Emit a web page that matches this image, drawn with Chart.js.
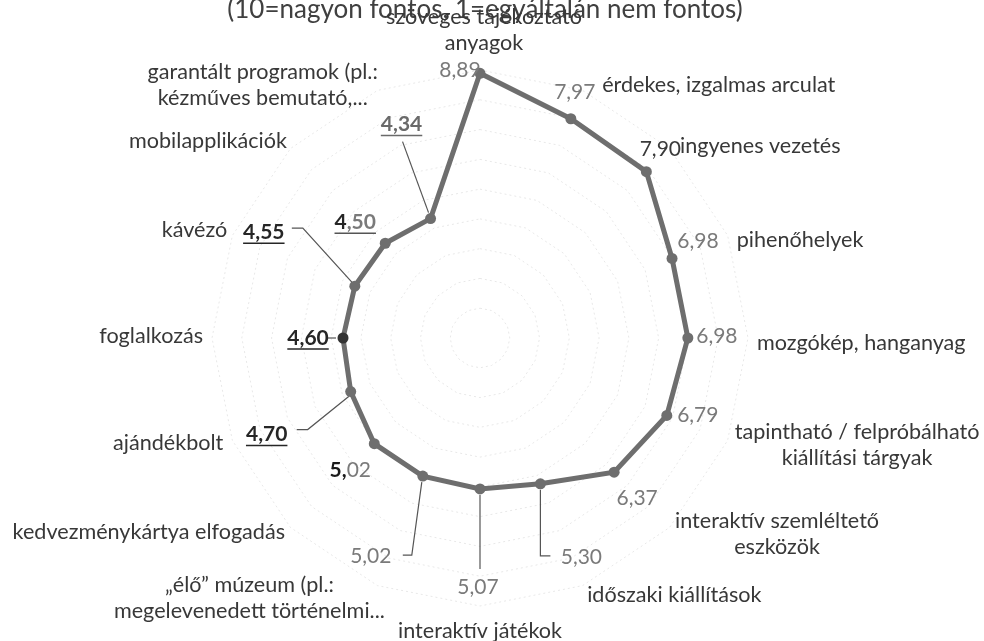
<!DOCTYPE html>
<html>
<head>
<meta charset="utf-8">
<script src="https://cdn.jsdelivr.net/npm/chart.js@4.4.1/dist/chart.umd.min.js"></script>
<style>
  html, body { margin: 0; padding: 0; background: #fff; }
  canvas { display: block; }
</style>
</head>
<body>
<canvas id="radar" width="984" height="641"></canvas>
<script>
// adatok (Excel radar diagram)
const title = '(10=nagyon fontos, 1=egyáltalán nem fontos)';

const categories = [
  ['szöveges tájékoztató', 'anyagok'],
  'érdekes, izgalmas arculat',
  'ingyenes vezetés',
  'pihenőhelyek',
  'mozgókép, hanganyag',
  ['tapintható / felpróbálható', 'kiállítási tárgyak'],
  ['interaktív szemléltető', 'eszközök'],
  'időszaki kiállítások',
  'interaktív játékok',
  ['„élő” múzeum (pl.:', 'megelevenedett történelmi...'],
  'kedvezménykártya elfogadás',
  'ajándékbolt',
  'foglalkozás',
  'kávézó',
  'mobilapplikációk',
  ['garantált programok (pl.:', 'kézműves bemutató,...']
];

const values = [8.89, 7.97, 7.90, 6.98, 6.98, 6.79, 6.37, 5.30, 5.07, 5.02, 5.02, 4.70, 4.60, 4.55, 4.50, 4.34];

const scaleMin = 0;
const scaleMax = 9;
const scaleStep = 1;

// elrendezes
const centerX = 480;
const centerY = 338;
const radius = 268;
const labelGap = 12;
const lineH = 26;
const labelFont = '21.6px Lato';
const valueSize = 21;
const lineColor = '#6e6e6e';

// kategoria cimkek kis eltolasa (Excel igy tette le oket)
const labelNudge = [[4, -2], [15, 6], [2, 6], [-2, 9], [-3, 5], [-4, 0], [-3, -2], [0, -2],
  [0, 0], [12, 1], [3, -4], [2, -2], [3, -2], [6, -1], [5, 1], [5, 6]];

// ertek cimkek helye a ponthoz kepest + vezeto vonalak
const valueLabelPos = [
  { dx: -20, dy: -3, style: 'gray' },
  { dx: 4, dy: -27, style: 'gray' },
  { dx: 14, dy: -22, style: 'dark' },
  { dx: 26, dy: -17, style: 'gray' },
  { dx: 29, dy: -2, style: 'gray' },
  { dx: 31, dy: 0, style: 'gray' },
  { dx: 23, dy: 26, style: 'gray' },
  { dx: 41, dy: 73, style: 'gray', lead: [[0, 6], [0, 72], [10, 72]] },
  { dx: -2, dy: 98, style: 'gray', lead: [[0, 6], [0, 80]] },
  { dx: -52, dy: 80, style: 'gray', lead: [[-1, 6], [-11, 79], [-20, 79]] },
  { dx: -24, dy: 27, style: 'mix' },
  { dx: -84, dy: 43, style: 'bold', lead: [[-2, 5], [-43, 38], [-54, 38]] },
  { dx: -35, dy: 0, style: 'bold', lead: [[-7, 0], [-17, 0]] },
  { dx: -91, dy: -54, style: 'bold', lead: [[-3, -4], [-52, -58], [-63, -58]] },
  { dx: -30, dy: -21, style: 'boldmix' },
  { dx: -29, dy: -94, style: 'boldgray', lead: [[-2, -6], [-28, -77]] }
];

function formatValue(v) {
  return v.toFixed(2).replace('.', ',');
}

// ertek cimke kirajzolasa (reszenkent, mert a stilus vegyes)
function drawValue(ctx, text, x, y, style) {
  const f = valueSize + 'px Lato';
  const b = 'bold ' + valueSize + 'px Lato';
  let parts;
  let underline = false;
  if (style === 'gray') parts = [[text, f, '#7a7a7a']];
  else if (style === 'dark') parts = [[text, f, '#3a3a3a']];
  else if (style === 'bold') { parts = [[text, b, '#262626']]; underline = '#262626'; }
  else if (style === 'boldgray') { parts = [[text, b, '#6a6a6a']]; underline = '#6a6a6a'; }
  else if (style === 'boldmix') {
    parts = [[text.slice(0, 1), b, '#262626'], [text.slice(1), b, '#7a7a7a']];
    underline = '#555';
  } else {
    parts = [[text.slice(0, 2), b, '#1a1a1a'], [text.slice(2), f, '#7a7a7a']];
  }
  let total = 0;
  parts.forEach(p => { ctx.font = p[1]; p.push(ctx.measureText(p[0]).width); total += p[3]; });
  let cx = x - total / 2;
  ctx.textAlign = 'left';
  ctx.textBaseline = 'middle';
  parts.forEach(p => {
    ctx.font = p[1];
    ctx.fillStyle = p[2];
    ctx.fillText(p[0], cx, y);
    cx += p[3];
  });
  if (underline) {
    ctx.strokeStyle = underline;
    ctx.lineWidth = 1.5;
    ctx.beginPath();
    ctx.moveTo(x - total / 2, y + 11);
    ctx.lineTo(x + total / 2, y + 11);
    ctx.stroke();
  }
}

const labelPlugin = {
  id: 'labelPlugin',
  afterDatasetsDraw(chart) {
    const ctx = chart.ctx;
    const scale = chart.scales.r;
    const meta = chart.getDatasetMeta(0);
    ctx.save();

    // cim (a kep tetejen levagva)
    ctx.font = '26px Lato';
    ctx.fillStyle = '#404040';
    ctx.textAlign = 'center';
    ctx.textBaseline = 'alphabetic';
    ctx.fillText(title, 485, 18);

    // kategoriak
    ctx.font = labelFont;
    ctx.fillStyle = '#383838';
    categories.forEach((lab, i) => {
      const lines = Array.isArray(lab) ? lab : [lab];
      const pos = scale.getPointPosition(i, scale.drawingArea + labelGap);
      const angle = i * 360 / categories.length;
      const sin = Math.sin(angle * Math.PI / 180);
      const w = Math.max(...lines.map(l => ctx.measureText(l).width));
      const h = lines.length * lineH;
      let cx = pos.x;
      if (sin > 0.05) cx = pos.x + w / 2;
      if (sin < -0.05) cx = pos.x - w / 2;
      let top = pos.y - h / 2;
      if (angle === 0) top = pos.y - h;
      if (angle === 180) top = pos.y;
      const n = labelNudge[i];
      ctx.textAlign = 'center';
      ctx.textBaseline = 'middle';
      lines.forEach((l, k) => {
        ctx.fillText(l, cx + n[0], top + n[1] + lineH * (k + 0.5));
      });
    });

    // ertekek + vezeto vonalak
    meta.data.forEach((pt, i) => {
      const lp = valueLabelPos[i];
      if (lp.lead) {
        ctx.strokeStyle = '#555';
        ctx.lineWidth = 1.2;
        ctx.beginPath();
        lp.lead.forEach((d, k) => {
          if (k === 0) ctx.moveTo(pt.x + d[0], pt.y + d[1]);
          else ctx.lineTo(pt.x + d[0], pt.y + d[1]);
        });
        ctx.stroke();
      }
      drawValue(ctx, formatValue(values[i]), pt.x + lp.dx, pt.y + lp.dy, lp.style);
    });
    ctx.restore();
  }
};

const ctx = document.getElementById('radar');
new Chart(ctx, {
  type: 'radar',
  data: {
    labels: categories,
    datasets: [{
      data: values,
      borderColor: lineColor,
      borderWidth: 5,
      pointRadius: 5.5,
      pointBorderWidth: 0,
      pointBackgroundColor: values.map((v, i) => i === 12 ? '#333' : lineColor),
      fill: false
    }]
  },
  options: {
    responsive: false,
    animation: false,
    plugins: {
      legend: { display: false },
      tooltip: { enabled: false }
    },
    scales: {
      r: {
        min: scaleMin,
        max: scaleMax,
        ticks: { display: false, stepSize: scaleStep },
        grid: { color: '#e8e8e8', lineWidth: 1 },
        border: { dash: [2, 3] },
        angleLines: { display: false },
        pointLabels: { display: false },
        afterFit(scale) {
          scale.xCenter = centerX;
          scale.yCenter = centerY;
          scale.drawingArea = radius;
        }
      }
    }
  },
  plugins: [labelPlugin]
});
</script>
</body>
</html>
